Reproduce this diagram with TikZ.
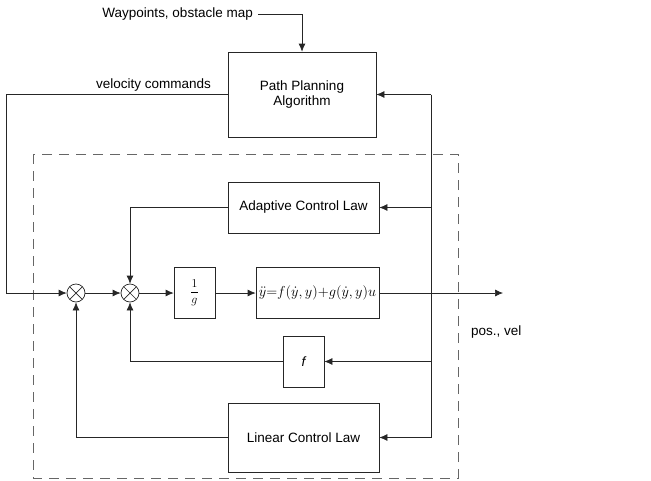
\documentclass[tikz,border=0pt]{standalone}
\usepackage{fontspec}
\setmainfont{Liberation Sans}
\usetikzlibrary{arrows.meta}
\tikzset{
  blk/.style={draw=black!85, line width=0.7pt, inner sep=0pt, align=center, font=\fontsize{13.5}{15.5}\selectfont},
  sumnode/.style={circle, draw=black!85, line width=0.7pt, minimum size=18pt, inner sep=0pt,
    path picture={\draw[black!85, line width=0.7pt] (path picture bounding box.south west) -- (path picture bounding box.north east)
      (path picture bounding box.north west) -- (path picture bounding box.south east);}},
  conn/.style={draw=black!85, line width=0.7pt},
  arr/.style={conn, -{Latex[length=8pt,width=7pt]}},
  lbl/.style={font=\fontsize{13.5}{15.5}\selectfont, inner sep=0pt}
}
\begin{document}
\begin{tikzpicture}[x=1pt,y=-1pt]
\useasboundingbox (0,0) rectangle (651,480);
% dashed box
\draw[black!60, line width=0.8pt, dash pattern=on 10pt off 7pt] (33,154) rectangle (458,478);

\node[blk, minimum width=148pt, minimum height=85pt] (path) at (302,94.5) {Path Planning\\Algorithm};
\node[blk, minimum width=151pt, minimum height=51pt] (adapt) at (303.5,207.5) {Adaptive Control Law};
\node[blk, minimum width=41pt, minimum height=51pt, font=\fontsize{12}{14}\selectfont] (ginv) at (194.5,293) {$\displaystyle\frac{1}{g}$};
\node[blk, minimum width=123pt, minimum height=51pt, font=\fontsize{13.5}{15}\selectfont] (plant) at (317.5,293) {$\ddot{y}{=}f(\dot{y},y){+}g(\dot{y},y)u$};
\node[blk, minimum width=41pt, minimum height=51pt] (fblk) at (303.5,361.5) {\itshape f};
\node[blk, minimum width=151pt, minimum height=69pt] (lin) at (303.5,437.5) {Linear Control Law};
\node[sumnode] (s1) at (76,293) {};
\node[sumnode] (s2) at (130,293) {};

\node[lbl, anchor=east] (wp) at (253,14) {Waypoints, obstacle map};
\node[lbl] (vc) at (153.5,85) {velocity commands};
\node[lbl, anchor=west] (pv) at (471,332) {pos., vel};

\coordinate (wpc) at (302,14);
\coordinate (vl) at (6,94.5);
\coordinate (vb) at (6,293);
\coordinate (out) at (503,293);
\coordinate (jt) at (431,94.5);
\coordinate (jb) at (431,437.5);
\coordinate (ja) at (431,207.5);
\coordinate (jf) at (431,361.5);

\draw[arr] ([xshift=5pt]wp.east) -- (wpc) -- (path.north);
\draw[arr] (path.west) -- (vl) -- (vb) -- (s1.west);
\draw[arr] (s1.east) -- (s2.west);
\draw[arr] (s2.east) -- (ginv.west);
\draw[arr] (ginv.east) -- (plant.west);
\draw[arr] (plant.east) -- (out);
\draw[conn] (jt) -- (jb);
\draw[arr] (jt) -- (path.east);
\draw[arr] (ja) -- (adapt.east);
\draw[arr] (jf) -- (fblk.east);
\draw[arr] (jb) -- (lin.east);
\draw[arr] (adapt.west) -| (s2.north);
\draw[arr] (fblk.west) -| (s2.south);
\draw[arr] (lin.west) -| (s1.south);
\end{tikzpicture}
\end{document}
